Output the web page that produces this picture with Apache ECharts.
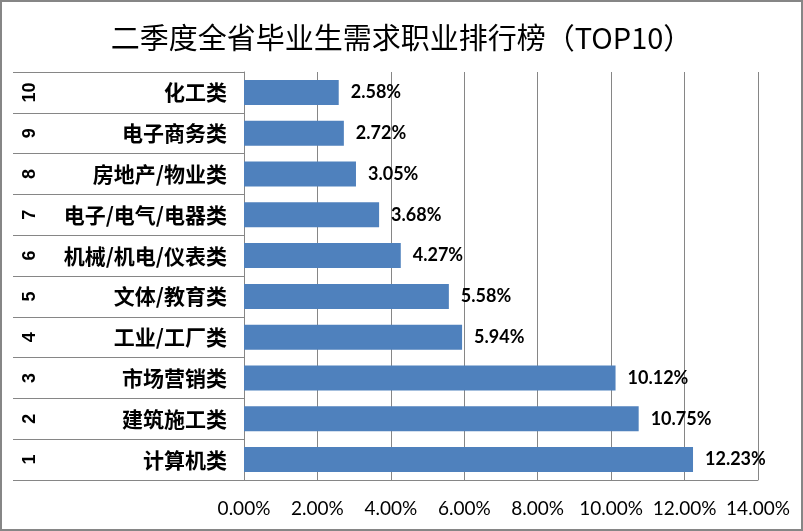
<!DOCTYPE html>
<html>
<head>
<meta charset="utf-8">
<script src="https://cdn.jsdelivr.net/npm/echarts@6/dist/echarts.min.js"></script>
<style>
html,body{margin:0;padding:0;background:#fff;}
#main{width:803px;height:531px;}
</style>
</head>
<body>
<div id="main"></div>
<script>
const titleText = '二季度全省毕业生需求职业排行榜（TOP10）';
const categories = ['计算机类', '建筑施工类', '市场营销类', '工业/工厂类', '文体/教育类', '机械/机电/仪表类', '电子/电气/电器类', '房地产/物业类', '电子商务类', '化工类'];
const ranks = ['1', '2', '3', '4', '5', '6', '7', '8', '9', '10'];
const values = [12.23, 10.75, 10.12, 5.94, 5.58, 4.27, 3.68, 3.05, 2.72, 2.58];
const xMin = 0, xMax = 14, xStep = 2;

const chart = echarts.init(document.getElementById('main'));
const lineColor = '#868686';
chart.setOption({
  animation: false,
  backgroundColor: '#fff',
  title: {
    text: titleText,
    left: 'center',
    top: 18,
    textStyle: { fontFamily: 'Noto Sans CJK SC', fontSize: 29, fontWeight: 'normal', color: '#000' }
  },
  graphic: [{
    type: 'rect',
    shape: { x: 1, y: 1, width: 801, height: 529 },
    style: { fill: 'none', stroke: lineColor, lineWidth: 2 },
    silent: true
  }],
  grid: { left: 244, right: 45, top: 72, bottom: 51, containLabel: false },
  xAxis: {
    type: 'value',
    min: xMin, max: xMax, interval: xStep,
    axisLine: { show: true, lineStyle: { color: lineColor, width: 1 } },
    axisTick: { show: false },
    splitLine: { show: true, lineStyle: { color: lineColor, width: 1 } },
    axisLabel: {
      margin: 19,
      formatter: v => v.toFixed(2) + '%',
      fontFamily: 'Lato', fontSize: 19, color: '#000'
    }
  },
  yAxis: [{
    type: 'category',
    data: categories,
    position: 'left',
    axisLine: { show: true, lineStyle: { color: lineColor, width: 1 } },
    axisTick: { show: true, length: 231, lineStyle: { color: lineColor, width: 1 } },
    axisLabel: {
      margin: 17,
      fontFamily: 'Noto Sans CJK SC', fontSize: 21, fontWeight: 'bold', color: '#000'
    }
  }, {
    type: 'category',
    data: ranks,
    position: 'left',
    offset: 205,
    axisLine: { show: false },
    axisTick: { show: false },
    axisLabel: {
      rotate: 90,
      margin: 0,
      fontFamily: 'Liberation Sans', fontSize: 18, fontWeight: 'bold', color: '#000'
    }
  }],
  series: [{
    type: 'bar',
    data: values,
    yAxisIndex: 0,
    barWidth: 25,
    itemStyle: { color: '#4F81BD' },
    label: {
      show: true,
      position: 'right',
      distance: 12,
      formatter: p => p.value.toFixed(2) + '%',
      fontFamily: 'Lato', fontSize: 18, fontWeight: 'bold', color: '#000'
    }
  }]
});
</script>
</body>
</html>
